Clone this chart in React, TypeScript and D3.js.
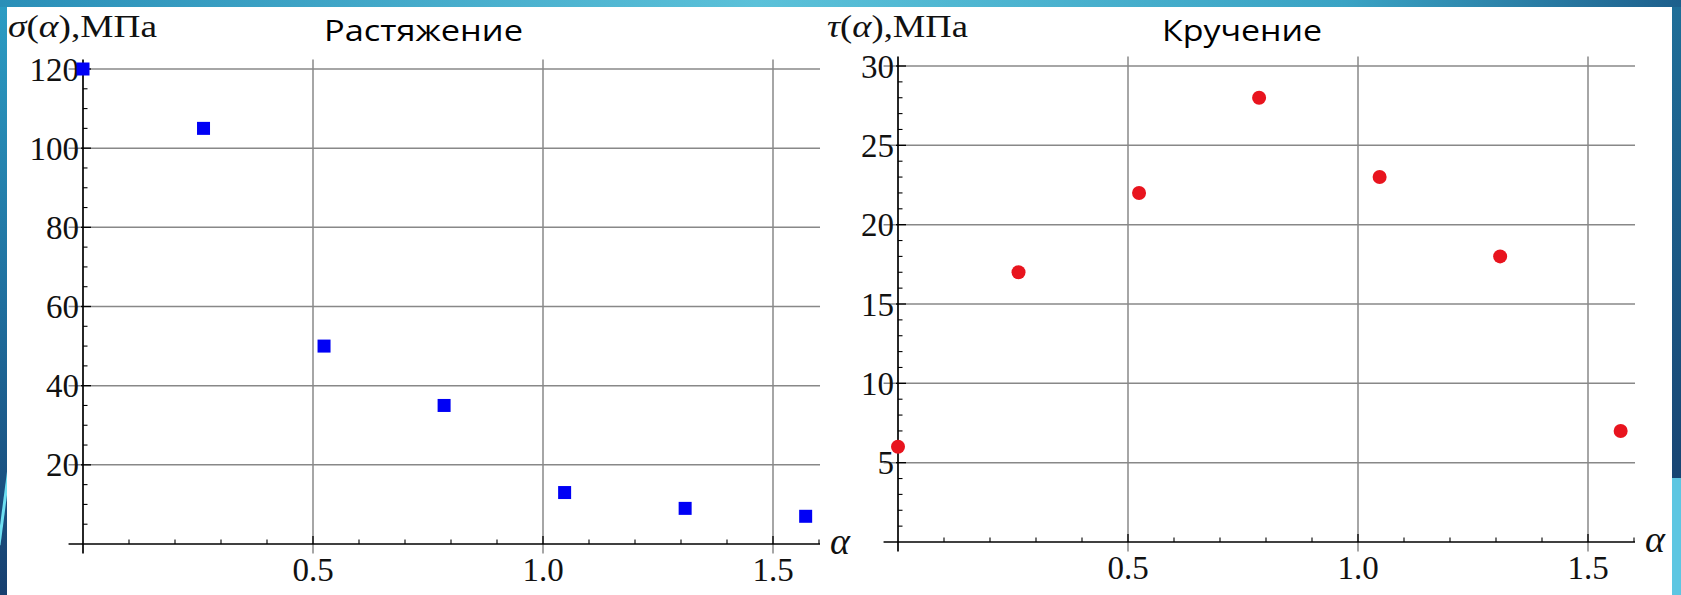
import React from "react";
import * as d3 from "d3";

// ---- data ----
const alphaValues = [0, 0.262, 0.524, 0.785, 1.047, 1.309, 1.571];
const sigmaValues = [120, 105, 50, 35, 13, 9, 7];
const tauValues = [6, 17, 22, 28, 23, 18, 7];
const alphaTicks = [0.5, 1.0, 1.5];
const sigmaTicks = [20, 40, 60, 80, 100, 120];
const tauTicks = [5, 10, 15, 20, 25, 30];
const titles = ["Растяжение", "Кручение"];

const W = 1681;
const H = 595;
const SERIF = "'Liberation Serif', 'Times New Roman', serif";
const SANS = "'Open Sans', 'Noto Sans', sans-serif";

type PanelProps = {
  x0: number;
  yZero: number;
  yTop: number;
  yMax: number;
  yMinorStep: number;
  yTicks: number[];
  values: number[];
  marker: "square" | "circle";
  color: string;
  title: string;
  titleX: number;
  titleLen: number;
  yLabelSym: string;
  yLabelX: number;
  yLabelLen: number;
};

function Panel(p: PanelProps) {
  const x = d3.scaleLinear().domain([0, 1.5]).range([p.x0, p.x0 + 690]);
  const y = d3.scaleLinear().domain([0, p.yMax]).range([p.yZero, p.yTop]);
  const xPadMin = -0.0314;
  const xPadMax = 1.6022;
  const yPad = p.yMax * 0.02;
  const yLo = -yPad;
  const yHi = p.yMax + yPad;
  const grid = "#888888";
  const tickFont = 33;

  const xMinor = d3
    .range(1, 17)
    .map((i) => i / 10)
    .filter((v) => Math.abs(v * 2 - Math.round(v * 2)) > 1e-6);
  const yMinor = d3
    .range(p.yMinorStep, p.yMax + 1e-6, p.yMinorStep)
    .filter((v) => !p.yTicks.some((t) => Math.abs(t - v) < 1e-6));

  return (
    <g>
      {alphaTicks.map((t) => (
        <line key={"gx" + t} x1={x(t)} x2={x(t)} y1={y(yHi)} y2={y(yLo)} stroke={grid} strokeWidth={1.5} />
      ))}
      {p.yTicks.map((t) => (
        <line key={"gy" + t} x1={x(xPadMin)} x2={x(xPadMax)} y1={y(t)} y2={y(t)} stroke={grid} strokeWidth={1.5} />
      ))}
      <line x1={x(xPadMin)} x2={x(xPadMax)} y1={y(0)} y2={y(0)} stroke="#000" strokeWidth={1.7} />
      <line x1={x(0)} x2={x(0)} y1={y(yLo)} y2={y(yHi)} stroke="#000" strokeWidth={1.7} />
      {alphaTicks.map((t) => (
        <line key={"xt" + t} x1={x(t)} x2={x(t)} y1={y(0)} y2={y(0) - 8} stroke="#000" strokeWidth={1.3} />
      ))}
      {xMinor.map((t) => (
        <line key={"xm" + t} x1={x(t)} x2={x(t)} y1={y(0)} y2={y(0) - 4.5} stroke="#000" strokeWidth={1.1} />
      ))}
      {p.yTicks.map((t) => (
        <line key={"yt" + t} x1={x(0) - 2} x2={x(0) + 8} y1={y(t)} y2={y(t)} stroke="#000" strokeWidth={1.3} />
      ))}
      {yMinor.map((t) => (
        <line key={"ym" + t} x1={x(0)} x2={x(0) + 4.5} y1={y(t)} y2={y(t)} stroke="#000" strokeWidth={1.1} />
      ))}
      {alphaTicks.map((t) => (
        <text key={"xl" + t} x={x(t)} y={y(0) + 37} textAnchor="middle" fontFamily={SERIF} fontSize={tickFont} fill="#111">
          {d3.format(".1f")(t)}
        </text>
      ))}
      {p.yTicks.map((t) => (
        <text key={"yl" + t} x={x(0) - 4} y={y(t) + 11.5} textAnchor="end" fontFamily={SERIF} fontSize={tickFont} fill="#111">
          {t}
        </text>
      ))}
      <text x={x(xPadMax) + 10} y={y(0) + 10} fontFamily={SERIF} fontStyle="italic" fontSize={38} fill="#111">
        α
      </text>
      <text x={p.yLabelX} y={37} fontFamily={SERIF} fontSize={32} fill="#111" textLength={p.yLabelLen} lengthAdjust="spacingAndGlyphs">
        <tspan fontStyle="italic">{p.yLabelSym}</tspan>
        <tspan>(</tspan>
        <tspan fontStyle="italic">α</tspan>
        <tspan>),МПа</tspan>
      </text>
      <text x={p.titleX} y={41} fontFamily={SANS} fontSize={30} fill="#000" textLength={p.titleLen} lengthAdjust="spacingAndGlyphs">
        {p.title}
      </text>
      {alphaValues.map((a, i) =>
        p.marker === "square" ? (
          <rect key={"pt" + i} x={x(a) - 6.5} y={y(p.values[i]) - 6.5} width={13} height={13} fill={p.color} />
        ) : (
          <circle key={"pt" + i} cx={x(a)} cy={y(p.values[i])} r={7} fill={p.color} />
        )
      )}
    </g>
  );
}

export default function App() {
  return (
    <svg width={W} height={H} style={{ position: "absolute", left: 0, top: 0, display: "block" }}>
      <defs>
        <linearGradient id="topBand" x1="0" x2="1" y1="0" y2="0">
          <stop offset="0" stopColor="#2a8fb8" />
          <stop offset="0.45" stopColor="#5bc1d9" />
          <stop offset="0.8" stopColor="#3aa3c4" />
          <stop offset="1" stopColor="#1d5f8c" />
        </linearGradient>
        <linearGradient id="leftBand" x1="0" x2="0" y1="0" y2="1">
          <stop offset="0" stopColor="#2c9cc3" />
          <stop offset="0.5" stopColor="#1f6f9e" />
          <stop offset="1" stopColor="#173f6f" />
        </linearGradient>
        <linearGradient id="rightBand" x1="0" x2="0" y1="0" y2="1">
          <stop offset="0" stopColor="#1f6e98" />
          <stop offset="1" stopColor="#163b6a" />
        </linearGradient>
      </defs>
      <rect x={0} y={0} width={W} height={H} fill="url(#topBand)" />
      <rect x={0} y={7} width={8} height={H - 7} fill="url(#leftBand)" />
      <rect x={1670} y={7} width={11} height={H - 7} fill="url(#rightBand)" />
      <line x1={-1} y1={545} x2={9} y2={468} stroke="#6fe0f2" strokeWidth={3} />
      <rect x={1672} y={478} width={9} height={H - 478} fill="#5dc6e2" />
      <rect x={7} y={7} width={1665} height={H - 7} fill="#fff" />

      <Panel
        x0={83}
        yZero={544}
        yTop={69}
        yMax={120}
        yMinorStep={5}
        yTicks={sigmaTicks}
        values={sigmaValues}
        marker="square"
        color="#0000f5"
        title={titles[0]}
        titleX={324}
        titleLen={199}
        yLabelSym="σ"
        yLabelX={8}
        yLabelLen={149}
      />
      <Panel
        x0={898}
        yZero={542}
        yTop={66}
        yMax={30}
        yMinorStep={1}
        yTicks={tauTicks}
        values={tauValues}
        marker="circle"
        color="#e8141e"
        title={titles[1]}
        titleX={1162}
        titleLen={160}
        yLabelSym="τ"
        yLabelX={827}
        yLabelLen={141}
      />
    </svg>
  );
}
